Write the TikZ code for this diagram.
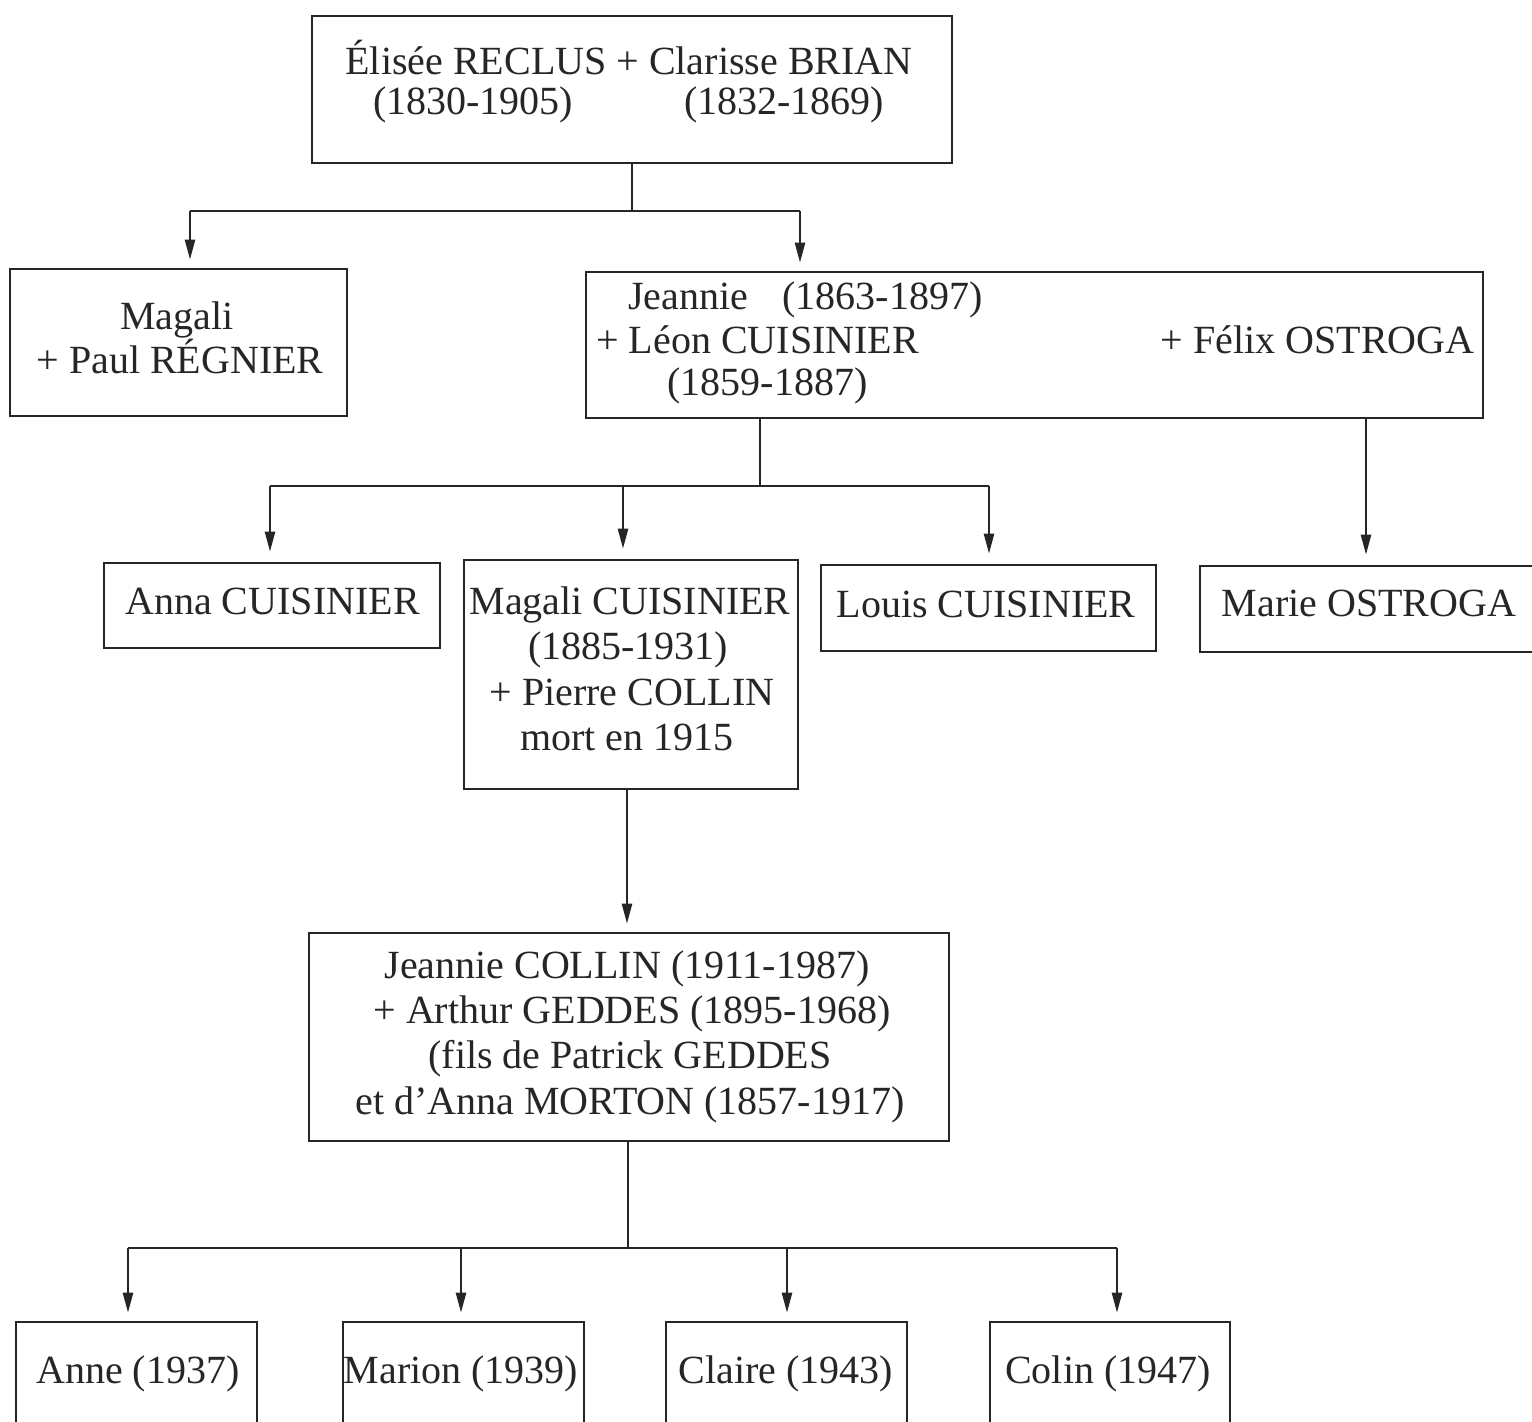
\documentclass[tikz,border=0pt]{standalone}
\usepackage{fontspec}
\setmainfont{Liberation Serif}
\usetikzlibrary{arrows.meta}
\tikzset{
  pbox/.style={draw=black!85, line width=1.3pt, inner sep=0pt, fill=none},
  txt/.style={font=\fontsize{20pt}{24pt}\selectfont, text=black!85, inner sep=0pt, anchor=base},
  link/.style={draw=black!85, line width=1.2pt},
  arr/.style={link, -{Triangle[length=10pt,width=5pt]}, shorten >=4pt}
}
\begin{document}
\begin{tikzpicture}[x=0.5pt,y=-0.5pt]
\useasboundingbox (0,0) rectangle (1532,1422);
\clip (0,0) rectangle (1532,1422);
\fill[white] (0,0) rectangle (1532,1422);

% boxes
\node[pbox, minimum width=320pt, minimum height=73.5pt] (top) at (632,89.5) {};
\node[pbox, minimum width=168.5pt, minimum height=73.5pt] (mag) at (178.5,342.5) {};
\node[pbox, minimum width=448.5pt, minimum height=73pt] (jea) at (1034.5,345) {};
\node[pbox, minimum width=168pt, minimum height=42.5pt] (anna) at (272,605.5) {};
\node[pbox, minimum width=167pt, minimum height=114.5pt] (magc) at (631,674.5) {};
\node[pbox, minimum width=167.5pt, minimum height=43pt] (louis) at (988.5,608) {};
\node[pbox, minimum width=172.5pt, minimum height=43pt] (marie) at (1372.5,609) {};
\node[pbox, minimum width=320pt, minimum height=104pt] (jc) at (629,1037) {};
\node[pbox, minimum width=120.5pt, minimum height=69pt] (anne) at (136.5,1391) {};
\node[pbox, minimum width=120.5pt, minimum height=69pt] (marion) at (463.5,1391) {};
\node[pbox, minimum width=120.5pt, minimum height=69pt] (claire) at (786.5,1391) {};
\node[pbox, minimum width=120pt, minimum height=69pt] (colin) at (1110,1391) {};

% texts
\node[txt] (t1) at (629,75) {Élisée RECLUS + Clarisse BRIAN};
\node[txt] (t2) at (473,115) {(1830-1905)};
\node[txt] (t3) at (784,115) {(1832-1869)};

\node[txt] (m1) at (177,330) {Magali};
\node[txt] (m2) at (180,374) {+ Paul RÉGNIER};

\node[txt, anchor=base west] (j1) at (628,310) {Jeannie};
\node[txt, anchor=base west] (j2) at (782,310) {(1863-1897)};
\node[txt, anchor=base west] (j3) at (596,354) {+ Léon CUISINIER};
\node[txt, anchor=base east] (j4) at (1475,354) {+ Félix OSTROGA};
\node[txt, anchor=base west] (j5) at (667,396) {(1859-1887)};

\node[txt] (a1) at (272.5,615) {Anna CUISINIER};

\node[txt] (c1) at (630,615) {Magali CUISINIER};
\node[txt] (c2) at (628,660) {(1885-1931)};
\node[txt] (c3) at (632,705) {+ Pierre COLLIN};
\node[txt] (c4) at (627,751) {mort en 1915};

\node[txt] (l1) at (986,618) {Louis CUISINIER};
\node[txt] (o1) at (1369,617) {Marie OSTROGA};

\node[txt] (g1) at (627,978) {Jeannie COLLIN (1911-1987)};
\node[txt] (g2) at (632,1023) {+ Arthur GEDDES (1895-1968)};
\node[txt] (g3) at (630,1068) {(fils de Patrick GEDDES};
\node[txt] (g4) at (630,1114) {et d’Anna MORTON (1857-1917)};

\node[txt] (b1) at (138,1383) {Anne (1937)};
\node[txt] (b2) at (461,1383) {Marion (1939)};
\node[txt] (b3) at (786,1383) {Claire (1943)};
\node[txt] (b4) at (1108,1383) {Colin (1947)};

% connector coordinates
\coordinate (r0) at (632,211);
\coordinate (r0l) at (190,211);
\coordinate (r0r) at (800,211);
\coordinate (r1) at (760,486);
\coordinate (r1l) at (270,486);
\coordinate (r1m) at (623,486);
\coordinate (r1r) at (989,486);
\coordinate (r1o) at (1366,418);
\coordinate (r2) at (627,789);
\coordinate (r3) at (628,1248);
\coordinate (r3a) at (128,1248);
\coordinate (r3b) at (461,1248);
\coordinate (r3c) at (787,1248);
\coordinate (r3d) at (1117,1248);

% connectors
\draw[link] (top.south) -- (r0);
\draw[link] (r0l) -- (r0r);
\draw[arr] (r0l) -- (r0l |- mag.north);
\draw[arr] (r0r) -- (r0r |- jea.north);

\draw[link] (r1 |- jea.south) -- (r1);
\draw[link] (r1l) -- (r1r);
\draw[arr, shorten >=5pt] (r1l) -- (r1l |- anna.north);
\draw[arr, shorten >=5pt] (r1m) -- (r1m |- magc.north);
\draw[arr, shorten >=5pt] (r1r) -- (r1r |- louis.north);
\draw[arr, shorten >=5pt] (r1o) -- (r1o |- marie.north);

\draw[arr] (r2) -- (r2 |- jc.north);

\draw[link] (r3 |- jc.south) -- (r3);
\draw[link] (r3a) -- (r3d);
\draw[arr] (r3a) -- (r3a |- anne.north);
\draw[arr] (r3b) -- (r3b |- marion.north);
\draw[arr] (r3c) -- (r3c |- claire.north);
\draw[arr] (r3d) -- (r3d |- colin.north);
\end{tikzpicture}
\end{document}
